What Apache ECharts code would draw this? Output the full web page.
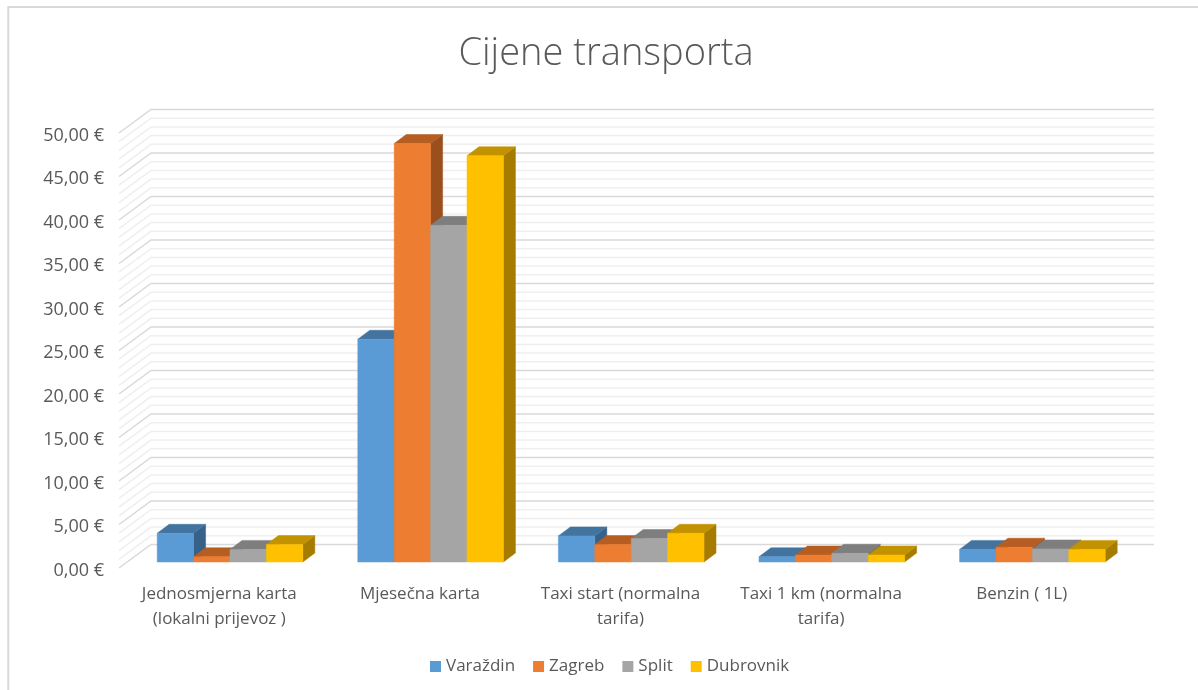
<!DOCTYPE html>
<html>
<head>
<meta charset="utf-8">
<style>
html, body { margin: 0; padding: 0; background: #fff; }
#chart { width: 1198px; height: 690px; }
</style>
<script src="https://cdn.jsdelivr.net/npm/echarts@6/dist/echarts.min.js"></script>
</head>
<body>
<div id="chart"></div>
<script>
const categories = [
    'Jednosmjerna karta\n(lokalni prijevoz )',
    'Mjesečna karta',
    'Taxi start (normalna\ntarifa)',
    'Taxi 1 km (normalna\ntarifa)',
    'Benzin ( 1L)'
]
const varazdin = [3.3, 25.6, 3.0, 0.6, 1.45]
const zagreb = [0.6, 48.1, 2.0, 0.8, 1.7]
const split = [1.45, 38.7, 2.7, 1.0, 1.5]
const dubrovnik = [2.0, 46.7, 3.3, 0.8, 1.45]
const wallTicks = [
    0, 1, 2, 3, 4, 5, 6, 7, 8, 9, 10, 11, 12, 13, 14, 15, 16, 17, 18, 19, 20, 21, 22, 23, 24, 25,
    26, 27, 28, 29, 30, 31, 32, 33, 34, 35, 36, 37, 38, 39, 40, 41, 42, 43, 44, 45, 46, 47, 48, 49, 50
]

// pomak straznjeg zida i dubina stupaca, u pikselima
const wallDx = 32
const wallDy = -23.5
const barDepthX = 12
const barDepthY = -9
const barShiftX = 10.7
const barShiftY = -6
const barShare = 0.1815

const chart = echarts.init(document.getElementById('chart'))

function wallItem(params, api) {
    const value = api.value(1)
    const y = api.coord([0, value])[1]
    const left = params.coordSys.x
    const right = left + params.coordSys.width
    const major = value % 5 === 0
    return {
        type: 'polyline',
        silent: true,
        z2: major ? 2 : 1,
        shape: {
            points: [
                [left, y],
                [left + wallDx, y + wallDy],
                [right + wallDx, y + wallDy]
            ]
        },
        style: {
            fill: null,
            stroke: major ? '#d9d9d9' : '#efefef',
            lineWidth: 1.5
        }
    }
}

function barSeries(name, values, index, front, top, side) {
    return {
        name: name,
        type: 'custom',
        data: values.map((v, i) => [i, v]),
        encode: { x: 0, y: 1 },
        itemStyle: { color: front },
        z: 3 + index,
        renderItem: function (params, api) {
            const base = api.coord([api.value(0), 0])
            const peak = api.coord([api.value(0), api.value(1)])
            const w = api.size([1, 0])[0] * barShare
            const x0 = base[0] + barShiftX + (index - 2) * w
            const x1 = x0 + w
            const y0 = base[1] + barShiftY
            const y1 = peak[1] + barShiftY
            const face = (points, color) => ({
                type: 'polygon',
                shape: { points: points },
                style: { fill: color, stroke: color, lineWidth: 0.5 }
            })
            return {
                type: 'group',
                children: [
                    face([[x1, y0], [x1 + barDepthX, y0 + barDepthY], [x1 + barDepthX, y1 + barDepthY], [x1, y1]], side),
                    face([[x0, y1], [x1, y1], [x1 + barDepthX, y1 + barDepthY], [x0 + barDepthX, y1 + barDepthY]], top),
                    face([[x0, y0], [x1, y0], [x1, y1], [x0, y1]], front)
                ]
            }
        }
    }
}

const option = {
    backgroundColor: '#fff',
    animation: false,
    title: {
        text: 'Cijene transporta',
        left: 601,
        top: 30,
        textAlign: 'center',
        textStyle: {
            color: '#595959',
            fontFamily: 'Open Sans',
            fontWeight: 300,
            fontSize: 38
        }
    },
    legend: {
        left: 425,
        top: 653,
        itemWidth: 11,
        itemHeight: 11,
        itemGap: 18,
        icon: 'rect',
        data: ['Varaždin', 'Zagreb', 'Split', 'Dubrovnik'],
        textStyle: { color: '#595959', fontFamily: 'Open Sans', fontSize: 17 }
    },
    grid: { left: 119, right: 76, top: 133, bottom: 122 },
    xAxis: {
        type: 'category',
        data: categories,
        axisLine: { show: false },
        axisTick: { show: false },
        axisLabel: {
            interval: 0,
            margin: 14,
            color: '#595959',
            fontFamily: 'Open Sans',
            fontSize: 17,
            lineHeight: 25
        }
    },
    yAxis: {
        type: 'value',
        min: 0,
        max: 50,
        interval: 5,
        axisLine: { show: false },
        axisTick: { show: false },
        splitLine: { show: false },
        axisLabel: {
            margin: 15,
            color: '#595959',
            fontFamily: 'Open Sans',
            fontSize: 18,
            verticalAlign: 'top',
            lineHeight: 5,
            formatter: v => v.toFixed(2).replace('.', ',') + ' €'
        }
    },
    series: [
        {
            type: 'custom',
            data: wallTicks.map(v => [0, v]),
            encode: { x: 0, y: 1 },
            z: 1,
            silent: true,
            renderItem: wallItem
        },
        barSeries('Varaždin', varazdin, 0, '#5b9bd5', '#43749f', '#38618a'),
        barSeries('Zagreb', zagreb, 1, '#ed7d31', '#b65d21', '#9a4f1c'),
        barSeries('Split', split, 2, '#a5a5a5', '#7e7e7e', '#6b6b6b'),
        barSeries('Dubrovnik', dubrovnik, 3, '#ffc000', '#c29200', '#a57c00')
    ],
    graphic: [
        {
            type: 'polyline',
            silent: true,
            z: 0,
            shape: { points: [[8.3, 690], [8.3, 7], [1198, 7]] },
            style: { fill: null, stroke: '#d9d9d9', lineWidth: 2 }
        }
    ]
}
chart.setOption(option)
</script>
</body>
</html>
